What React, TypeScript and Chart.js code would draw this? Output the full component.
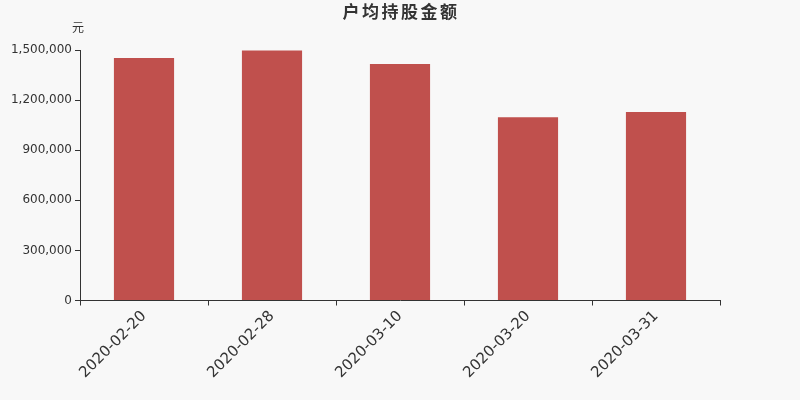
import { useEffect, useRef } from "react";
import { Chart, registerables } from "chart.js";

Chart.register(...registerables);

const dates = ["2020-02-20", "2020-02-28", "2020-03-10", "2020-03-20", "2020-03-31"];
const avgHoldingValue = [1452000, 1497000, 1416000, 1098000, 1128000];
const yTicks = [0, 300000, 600000, 900000, 1200000, 1500000];

const chartTitle = "户均持股金额";
const unitLabel = "元";

const FONT = "'DejaVu Sans', 'Noto Sans CJK SC', sans-serif";

// draws background, title and unit label
const decorPlugin = {
  id: "decor",
  beforeDraw(chart: Chart) {
    const { ctx, width, height } = chart;
    ctx.save();
    ctx.fillStyle = "#f8f8f8";
    ctx.fillRect(0, 0, width, height);
    ctx.restore();
  },
  afterDraw(chart: Chart) {
    const { ctx, chartArea } = chart;
    ctx.save();
    ctx.fillStyle = "#333";
    ctx.textAlign = "center";
    ctx.textBaseline = "middle";
    ctx.font = `bold 17px ${FONT}`;
    (ctx as any).letterSpacing = "2.5px";
    ctx.fillText(chartTitle, chart.width / 2 + 1, 14);
    (ctx as any).letterSpacing = "0px";
    ctx.font = `12px ${FONT}`;
    ctx.fillText(unitLabel, chartArea.left - 2, 29);
    ctx.restore();
  },
};

export default function App() {
  const canvasRef = useRef<HTMLCanvasElement>(null);
  const chartRef = useRef<Chart | null>(null);

  useEffect(() => {
    document.body.style.margin = "0";
    if (!canvasRef.current) return;
    if (chartRef.current) chartRef.current.destroy();

    chartRef.current = new Chart(canvasRef.current, {
      type: "bar",
      data: {
        labels: dates,
        datasets: [
          {
            label: chartTitle,
            data: avgHoldingValue,
            backgroundColor: "#c0504d",
            categoryPercentage: 1,
            barPercentage: 0.47,
          },
        ],
      },
      options: {
        animation: false,
        responsive: false,
        maintainAspectRatio: false,
        layout: { padding: { top: 50, right: 80, left: 0, bottom: 0 } },
        plugins: {
          legend: { display: false },
          title: { display: false },
          tooltip: { enabled: false },
        },
        scales: {
          x: {
            afterFit: (scale: any) => {
              scale.height = 99.5;
            },
            grid: {
              offset: true,
              drawOnChartArea: false,
              drawTicks: true,
              tickLength: 5,
              color: "#333",
            },
            border: { display: true, color: "#333" },
            ticks: {
              color: "#333",
              font: { family: FONT, size: 15 },
              minRotation: 45,
              maxRotation: 45,
              padding: 2,
            },
          },
          y: {
            min: 0,
            max: 1500000,
            afterFit: (scale: any) => {
              scale.width = 80;
            },
            afterBuildTicks: (scale: any) => {
              scale.ticks = yTicks.map((v) => ({ value: v }));
            },
            grid: {
              drawOnChartArea: false,
              drawTicks: true,
              tickLength: 5,
              color: "#333",
            },
            border: { display: true, color: "#333" },
            ticks: {
              color: "#333",
              font: { family: FONT, size: 12 },
              padding: 3,
              callback: (v: any) => Number(v).toLocaleString("en-US"),
            },
          },
        },
      },
      plugins: [decorPlugin],
    });

    return () => {
      if (chartRef.current) {
        chartRef.current.destroy();
        chartRef.current = null;
      }
    };
  }, []);

  return (
    <div style={{ width: 800, height: 400 }}>
      <canvas ref={canvasRef} width={800} height={400} style={{ width: 800, height: 400 }} />
    </div>
  );
}
